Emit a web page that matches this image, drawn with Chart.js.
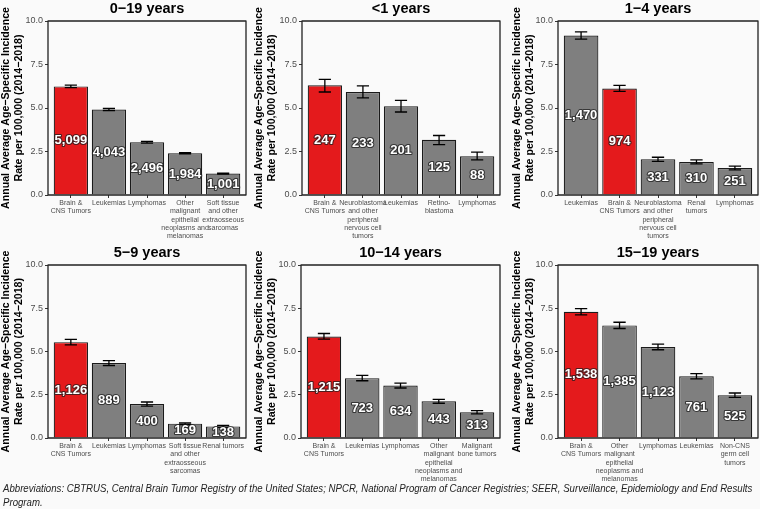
<!DOCTYPE html>
<html>
<head>
<meta charset="utf-8">
<script src="https://cdn.jsdelivr.net/npm/chart.js@4.4.1/dist/chart.umd.min.js"></script>
<style>
  html, body { margin: 0; padding: 0; background: #fafafa; }
  body { width: 760px; height: 509px; position: relative; overflow: hidden; }
  .panel { position: absolute; }
  #caption {
    position: absolute; left: 3px; top: 481px; width: 830px;
    font-family: 'Liberation Sans', Arial, sans-serif; font-style: italic;
    font-size: 10.5px; line-height: 14px; color: #222; white-space: nowrap;
    transform: scaleX(0.918); transform-origin: 0 0;
  }
</style>
</head>
<body>
<div class="panel" style="left:0px;top:0px;width:250px;height:240px"><canvas id="p1"></canvas></div>
<div class="panel" style="left:252px;top:0px;width:252px;height:240px"><canvas id="p2"></canvas></div>
<div class="panel" style="left:506px;top:0px;width:254px;height:240px"><canvas id="p3"></canvas></div>
<div class="panel" style="left:0px;top:244px;width:250px;height:242px"><canvas id="p4"></canvas></div>
<div class="panel" style="left:252px;top:244px;width:252px;height:242px"><canvas id="p5"></canvas></div>
<div class="panel" style="left:506px;top:244px;width:254px;height:242px"><canvas id="p6"></canvas></div>
<div id="caption">Abbreviations: CBTRUS, Central Brain Tumor Registry of the United States; NPCR, National Program of Cancer Registries; SEER, Surveillance, Epidemiology and End Results<br>Program.</div>

<script>
// ---- datos ----
const titulos = ['0\u221219 years', '<1 years', '1\u22124 years', '5\u22129 years', '10\u221214 years', '15\u221219 years'];

const BRAIN = ['Brain &', 'CNS Tumors'];
const OTHER_EPI = ['Other', 'malignant', 'epithelial', 'neoplasms and', 'melanomas'];
const SOFT = ['Soft tissue', 'and other', 'extraosseous', 'sarcomas'];
const NEURO = ['Neuroblastoma', 'and other', 'peripheral', 'nervous cell', 'tumors'];

const cats0_19 = [BRAIN, 'Leukemias', 'Lymphomas', OTHER_EPI, SOFT];
const tasa0_19 = [6.24, 4.91, 3.03, 2.40, 1.23];
const inf0_19 = [6.17, 4.85, 2.98, 2.36, 1.20];
const sup0_19 = [6.31, 4.97, 3.08, 2.44, 1.26];
const casos0_19 = [5099, 4043, 2496, 1984, 1001];

const cats_1 = [BRAIN, NEURO, 'Leukemias', ['Retino-', 'blastoma'], 'Lymphomas'];
const tasa_1 = [6.31, 5.92, 5.10, 3.17, 2.23];
const inf_1 = [5.92, 5.58, 4.77, 2.90, 2.02];
const sup_1 = [6.65, 6.27, 5.44, 3.42, 2.46];
const casos_1 = [247, 233, 201, 125, 88];

const cats1_4 = ['Leukemias', BRAIN, NEURO, ['Renal', 'tumors'], 'Lymphomas'];
const tasa1_4 = [9.17, 6.12, 2.05, 1.90, 1.55];
const inf1_4 = [8.96, 5.96, 1.93, 1.79, 1.44];
const sup1_4 = [9.38, 6.30, 2.17, 2.02, 1.66];
const casos1_4 = [1470, 974, 331, 310, 251];

const cats5_9 = [BRAIN, 'Leukemias', 'Lymphomas', SOFT, 'Renal tumors'];
const tasa5_9 = [5.54, 4.33, 1.96, 0.83, 0.67];
const inf5_9 = [5.38, 4.19, 1.84, 0.78, 0.62];
const sup5_9 = [5.70, 4.47, 2.08, 0.88, 0.73];
const casos5_9 = [1126, 889, 400, 169, 138];

const cats10_14 = [BRAIN, 'Leukemias', 'Lymphomas', OTHER_EPI, ['Malignant', 'bone tumors']];
const tasa10_14 = [5.87, 3.46, 3.03, 2.12, 1.49];
const inf10_14 = [5.71, 3.31, 2.89, 2.01, 1.39];
const sup10_14 = [6.04, 3.62, 3.17, 2.23, 1.58];
const casos10_14 = [1215, 723, 634, 443, 313];

const cats15_19 = [BRAIN, OTHER_EPI, 'Lymphomas', 'Leukemias', ['Non-CNS', 'germ cell', 'tumors']];
const tasa15_19 = [7.30, 6.51, 5.26, 3.57, 2.47];
const inf15_19 = [7.12, 6.33, 5.10, 3.42, 2.35];
const sup15_19 = [7.48, 6.69, 5.43, 3.72, 2.60];
const casos15_19 = [1538, 1385, 1123, 761, 525];

const ticksY = [0, 2.5, 5, 7.5, 10];
const tituloY = ['Annual Average Age\u2212Specific Incidence', 'Rate per 100,000 (2014\u22122018)'];

const ROJO = '#E41A1C';
const GRIS = '#7F7F7F';
const FUENTE = "'Liberation Sans', Arial, Helvetica, sans-serif";

Chart.defaults.font.family = FUENTE;
Chart.defaults.animation = false;

// barras de error, números dentro de las barras, marco y título del eje y
const extras = {
    id: 'extras',
    afterDatasetsDraw(chart) {
        const ctx = chart.ctx;
        const x = chart.scales.x;
        const y = chart.scales.y;
        const p = chart.options.plugins.extras;
        const mitad = (x.getPixelForValue(1.16) - x.getPixelForValue(1)) ;
        ctx.save();
        ctx.strokeStyle = '#000';
        ctx.lineWidth = 1.3;
        p.inf.forEach((lo, i) => {
            const cx = x.getPixelForValue(i + 1);
            const y1 = y.getPixelForValue(lo);
            const y2 = y.getPixelForValue(p.sup[i]);
            ctx.beginPath();
            ctx.moveTo(cx, y1); ctx.lineTo(cx, y2);
            ctx.moveTo(cx - mitad, y1); ctx.lineTo(cx + mitad, y1);
            ctx.moveTo(cx - mitad, y2); ctx.lineTo(cx + mitad, y2);
            ctx.stroke();
        });
        ctx.font = 'bold 13px ' + FUENTE;
        ctx.textAlign = 'center';
        ctx.textBaseline = 'middle';
        ctx.lineJoin = 'round';
        p.casos.forEach((c, i) => {
            const txt = c.toLocaleString('en-US');
            const cx = x.getPixelForValue(i + 1);
            const cy = y.getPixelForValue(p.tasa[i] / 2);
            ctx.strokeStyle = 'rgba(30,30,30,0.75)';
            ctx.lineWidth = 2.2;
            ctx.strokeText(txt, cx, cy);
            ctx.fillStyle = '#fff';
            ctx.fillText(txt, cx, cy);
        });
        const a = chart.chartArea;
        ctx.strokeStyle = '#222';
        ctx.lineWidth = 1.3;
        ctx.strokeRect(a.left, a.top, a.right - a.left, a.bottom - a.top);

        // título del eje y (sin comprimir al alto del área)
        ctx.translate(p.xTitulo, (a.top + a.bottom) / 2);
        ctx.rotate(-Math.PI / 2);
        ctx.font = 'bold 10.6px ' + FUENTE;
        ctx.fillStyle = '#000';
        tituloY.forEach((t, k) => ctx.fillText(t, 0, k * 13));
        ctx.restore();
    }
};

function creaPanel(id, titulo, cats, tasa, inf, sup, casos, anchoY, margenDer, altoX, xTitulo) {
    const colores = cats.map(c => (Array.isArray(c) && c[0] === 'Brain &') ? ROJO : GRIS);
    new Chart(document.getElementById(id), {
        type: 'bar',
        data: {
            datasets: [{
                data: tasa.map((v, i) => ({ x: i + 1, y: v })),
                backgroundColor: colores,
                borderColor: '#1a1a1a',
                borderWidth: 1.2,
                barPercentage: 0.9,
                categoryPercentage: 1
            }]
        },
        options: {
            responsive: true,
            maintainAspectRatio: false,
            layout: { padding: { left: 0, right: margenDer, top: 0, bottom: 0 } },
            plugins: {
                legend: { display: false },
                tooltip: { enabled: false },
                title: {
                    display: true,
                    text: titulo,
                    fullSize: false,
                    color: '#000',
                    font: { size: 14.5, weight: 'bold' },
                    padding: { top: 0, bottom: 3.6 }
                },
                extras: { inf: inf, sup: sup, casos: casos, tasa: tasa, xTitulo: xTitulo }
            },
            scales: {
                x: {
                    type: 'linear',
                    min: 0.4,
                    max: cats.length + 0.6,
                    offset: false,
                    afterBuildTicks: (s) => { s.ticks = cats.map((c, i) => ({ value: i + 1 })); },
                    afterFit: (s) => { s.height = altoX; },
                    border: { display: false },
                    grid: { display: true, drawOnChartArea: false, offset: false, tickLength: 3, color: '#333', lineWidth: 1 },
                    ticks: {
                        autoSkip: false,
                        maxRotation: 0,
                        padding: 1,
                        color: '#4d4d4d',
                        font: { size: 7, lineHeight: 1.18 },
                        callback: (v) => cats[v - 1]
                    }
                },
                y: {
                    min: 0,
                    max: 10,
                    afterBuildTicks: (s) => { s.ticks = ticksY.map(v => ({ value: v })); },
                    afterFit: (s) => { s.width = anchoY; },
                    border: { display: false },
                    grid: { display: true, drawOnChartArea: false, tickLength: 3, color: '#333', lineWidth: 1 },
                    ticks: {
                        padding: 2,
                        color: '#4d4d4d',
                        font: { size: 9 },
                        callback: (v) => v.toFixed(1)
                    }
                }
            }
        },
        plugins: [extras]
    });
}

creaPanel('p1', titulos[0], cats0_19, tasa0_19, inf0_19, sup0_19, casos0_19, 48, 4, 45, 6.5);
creaPanel('p2', titulos[1], cats_1, tasa_1, inf_1, sup_1, casos_1, 50, 4, 45, 7);
creaPanel('p3', titulos[2], cats1_4, tasa1_4, inf1_4, sup1_4, casos1_4, 52, 2, 45, 11);
creaPanel('p4', titulos[3], cats5_9, tasa5_9, inf5_9, sup5_9, casos5_9, 48, 4, 48, 6.5);
creaPanel('p5', titulos[4], cats10_14, tasa10_14, inf10_14, sup10_14, casos10_14, 49, 4, 48, 7);
creaPanel('p6', titulos[5], cats15_19, tasa15_19, inf15_19, sup15_19, casos15_19, 52, 2, 48, 11);
</script>
</body>
</html>
